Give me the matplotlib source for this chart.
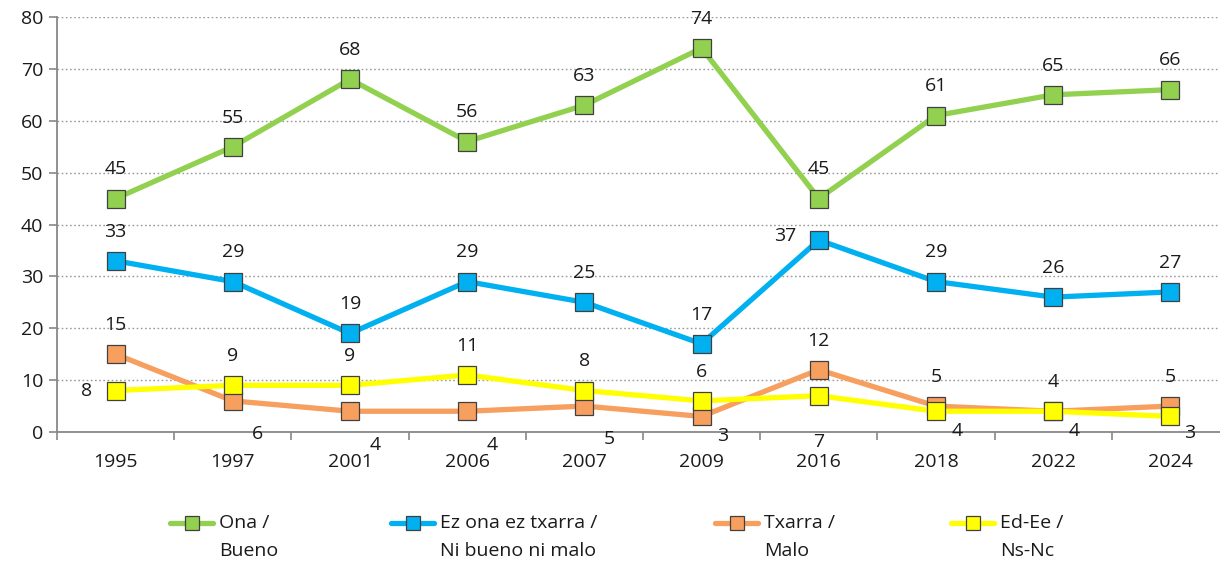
import matplotlib
matplotlib.use("Agg")
import matplotlib.pyplot as plt
from matplotlib.lines import Line2D
import numpy as np

years = ["1995", "1997", "2001", "2006", "2007", "2009", "2016", "2018", "2022", "2024"]
ona = [45, 55, 68, 56, 63, 74, 45, 61, 65, 66]
ez_ona = [33, 29, 19, 29, 25, 17, 37, 29, 26, 27]
txarra = [15, 6, 4, 4, 5, 3, 12, 5, 4, 5]
ed_ee = [8, 9, 9, 11, 8, 6, 7, 4, 4, 3]
labels = ["Ona /\nBueno", "Ez ona ez txarra /\nNi bueno ni malo", "Txarra /\nMalo", "Ed-Ee /\nNs-Nc"]
colors = ["#92D050", "#00B0F0", "#F79F5F", "#FFFF00"]

plt.rcParams['font.family'] = ['Open Sans', 'DejaVu Sans']
TXT = "#1a1a1a"
FS = 14
W, H = 1220, 562
fig = plt.figure(figsize=(W / 100, H / 100), dpi=100)
left_px, right_px, top_px, bot_px = 57, 1229, 17, 432
ax = fig.add_axes([left_px / W, 1 - bot_px / H, (right_px - left_px) / W, (bot_px - top_px) / H])

x = np.arange(len(years))
series = [ona, ez_ona, txarra, ed_ee]
for vals, c in zip(series, colors):
    ax.plot(x, vals, color=c, lw=3.8, marker='s', markersize=12.5,
            markerfacecolor=c, markeredgecolor='#404040', markeredgewidth=0.9,
            solid_capstyle='round', zorder=3)

# label offsets in points: (dx, dy)
above = (0, 21)
below_right = (18, -24)
left = (-21, 0)
pos = {
    0: [above] * 10,
    1: [above] * 6 + [(-24, 3)] + [above] * 3,
    2: [above, below_right, below_right, below_right, below_right, (15, -14), above, above, above, above],
    3: [left, above, above, above, above, above, (0, -33), (15, -14), (15, -14), (14, -12)],
}
for si, vals in enumerate(series):
    for i, v in enumerate(vals):
        dx, dy = pos[si][i]
        ax.annotate(str(v), (i, v), xytext=(dx, dy), textcoords='offset points',
                    ha='center', va='center', fontsize=FS, color=TXT, zorder=5)

ax.set_xlim(-0.5, len(years) - 0.5)
ax.set_ylim(0, 80)
ax.set_yticks(range(0, 81, 10))
ax.set_yticklabels([str(v) for v in range(0, 81, 10)], fontsize=FS, color=TXT)
ax.set_xticks(x)
ax.set_xticklabels(years, fontsize=FS, color=TXT)
ax.set_xticks(np.arange(-0.5, len(years), 1), minor=True)
ax.tick_params(axis='x', which='major', length=0, pad=15)
ax.tick_params(axis='x', which='minor', length=6, color='#888888', width=1.2, direction='out')
ax.tick_params(axis='y', length=6, color='#888888', width=1.2, direction='out', pad=4)
for s in ['top', 'right']:
    ax.spines[s].set_visible(False)
for s in ['left', 'bottom']:
    ax.spines[s].set_color('#888888')
    ax.spines[s].set_linewidth(1.3)
ax.yaxis.grid(True, linestyle=(0, (1.2, 1.8)), color='#999999', linewidth=1.0)
ax.set_axisbelow(True)

# legend
leg_x = [170, 391, 715, 951]
for lx, lab, c in zip(leg_x, labels, colors):
    y1 = 1 - 523 / H
    fig.add_artist(Line2D([lx / W, (lx + 43) / W], [y1, y1], color=c, lw=3.8,
                          solid_capstyle='round', transform=fig.transFigure))
    fig.add_artist(Line2D([(lx + 21.5) / W], [y1], color=c, marker='s', markersize=9.5,
                          markerfacecolor=c, markeredgecolor='#404040', markeredgewidth=0.9,
                          transform=fig.transFigure))
    l1, l2 = lab.split("\n")
    fig.text((lx + 49) / W, y1, l1, fontsize=FS, color=TXT, va='center', ha='left')
    fig.text((lx + 49) / W, 1 - 551 / H, l2, fontsize=FS, color=TXT, va='center', ha='left')

fig.savefig("out.png", dpi=100)
